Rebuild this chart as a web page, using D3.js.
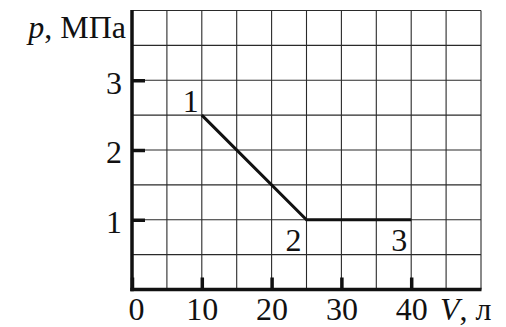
<!DOCTYPE html>
<html>
<head>
<meta charset="utf-8">
<script src="https://cdn.jsdelivr.net/npm/d3@7"></script>
<style>
  html, body { margin: 0; padding: 0; background: #fff; }
  svg text { font-family: "Liberation Serif", "Times New Roman", serif !important; fill: #111; }
</style>
</head>
<body>
<svg id="chart" width="506" height="327"></svg>
<script>
// Data
const volumes = [10, 25, 40];        // V, л
const pressures = [2.5, 1, 1];        // p, МПа
const pointLabels = ["1", "2", "3"];
const xTickValues = [0, 10, 20, 30, 40];
const yTickValues = [1, 2, 3];
const xGridValues = [0, 5, 10, 15, 20, 25, 30, 35, 40, 45, 50];
const yGridValues = [0, 0.5, 1, 1.5, 2, 2.5, 3, 3.5, 4];

const svg = d3.select("#chart");
const x = d3.scaleLinear().domain([0, 50]).range([132, 481]);
const y = d3.scaleLinear().domain([0, 4]).range([289.5, 10.5]);
const serif = "'Liberation Serif', 'Times New Roman', serif";

// Grid
const grid = svg.append("g").attr("stroke", "#2a2a2a").attr("stroke-width", 1.1);
grid.selectAll("line.v").data(xGridValues).join("line")
  .attr("x1", d => x(d)).attr("x2", d => x(d))
  .attr("y1", y(4)).attr("y2", y(0));
grid.selectAll("line.h").data(yGridValues).join("line")
  .attr("x1", x(0)).attr("x2", x(50))
  .attr("y1", d => y(d)).attr("y2", d => y(d));

// Axes
const fontSize = 32;
const yAxis = d3.axisLeft(y).tickValues(yTickValues).tickSize(-13).tickPadding(10).tickFormat(d3.format("d"));
const gy = svg.append("g").attr("transform", `translate(${x(0)},0)`).call(yAxis)
  .attr("font-family", serif).attr("font-size", fontSize);
gy.select(".domain").remove();
gy.selectAll(".tick line").attr("stroke", "#111").attr("stroke-width", 3.5);
gy.selectAll(".tick text").style("font-family", serif).style("font-size", fontSize + "px")
  .attr("fill", "#111").attr("dy", "0.4em");

const xAxis = d3.axisBottom(x).tickValues(xTickValues).tickSize(-12).tickPadding(8).tickFormat(d3.format("d"));
const gx = svg.append("g").attr("transform", `translate(0,${y(0)})`).call(xAxis)
  .attr("font-family", serif).attr("font-size", fontSize);
gx.select(".domain").remove();
gx.selectAll(".tick line").attr("stroke", "#111").attr("stroke-width", 3.5);
gx.selectAll(".tick text").style("font-family", serif).style("font-size", fontSize + "px")
  .attr("fill", "#111").attr("dy", "0.69em")
  .attr("dx", d => d === 0 ? 4 : 0);

// Axis lines
svg.append("line").attr("x1", x(0)).attr("x2", x(0)).attr("y1", y(4) - 0.5).attr("y2", y(0) + 1.8)
  .attr("stroke", "#111").attr("stroke-width", 3.5);
svg.append("line").attr("x1", x(0) - 1.7).attr("x2", x(50) + 0.5).attr("y1", y(0)).attr("y2", y(0))
  .attr("stroke", "#111").attr("stroke-width", 3.5);

// Process line
const pts = volumes.map((v, i) => [v, pressures[i]]);
svg.append("path").datum(pts)
  .attr("fill", "none").attr("stroke", "#111").attr("stroke-width", 3)
  .attr("d", d3.line().x(d => x(d[0])).y(d => y(d[1])));

// Point labels
const labelOffsets = [[-3, -3], [-5, 31], [-4, 31]];
svg.selectAll("text.pt").data(pts).join("text")
  .attr("class", "pt")
  .attr("x", (d, i) => x(d[0]) + labelOffsets[i][0])
  .attr("y", (d, i) => y(d[1]) + labelOffsets[i][1])
  .attr("text-anchor", "end").style("font-size", fontSize + "px")
  .text((d, i) => pointLabels[i]);

// Axis titles
const yt = svg.append("text").attr("x", 126).attr("y", 38).attr("text-anchor", "end").style("font-size", fontSize + "px");
yt.append("tspan").attr("font-style", "italic").text("p");
yt.append("tspan").text(", МПа");

const xt = svg.append("text").attr("x", 440).attr("y", 320).style("font-size", fontSize + "px");
xt.append("tspan").attr("font-style", "italic").text("V");
xt.append("tspan").text(", л");
</script>
</body>
</html>
